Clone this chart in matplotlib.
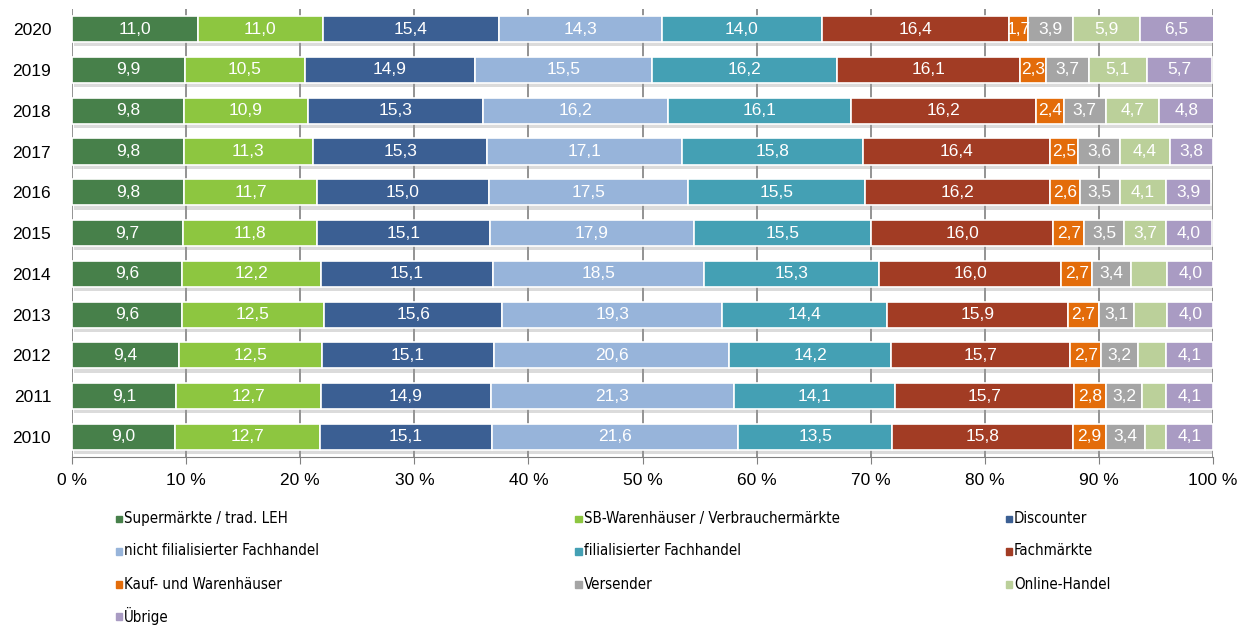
import numpy as np
import matplotlib.pyplot as plt
import matplotlib.patheffects as pe
from matplotlib.patches import Rectangle
from matplotlib import font_manager

plt.rcParams['font.family'] = ['Liberation Sans', 'DejaVu Sans']

# Umsatzanteile nach Vertriebsformen in %, Jahre 2010 bis 2020
years = ['2010', '2011', '2012', '2013', '2014', '2015', '2016', '2017', '2018', '2019', '2020']

supermaerkte = [9.0, 9.1, 9.4, 9.6, 9.6, 9.7, 9.8, 9.8, 9.8, 9.9, 11.0]
sb_warenhaeuser = [12.7, 12.7, 12.5, 12.5, 12.2, 11.8, 11.7, 11.3, 10.9, 10.5, 11.0]
discounter = [15.1, 14.9, 15.1, 15.6, 15.1, 15.1, 15.0, 15.3, 15.3, 14.9, 15.4]
nicht_filial = [21.6, 21.3, 20.6, 19.3, 18.5, 17.9, 17.5, 17.1, 16.2, 15.5, 14.3]
filial = [13.5, 14.1, 14.2, 14.4, 15.3, 15.5, 15.5, 15.8, 16.1, 16.2, 14.0]
fachmaerkte = [15.8, 15.7, 15.7, 15.9, 16.0, 16.0, 16.2, 16.4, 16.2, 16.1, 16.4]
kaufhaeuser = [2.9, 2.8, 2.7, 2.7, 2.7, 2.7, 2.6, 2.5, 2.4, 2.3, 1.7]
versender = [3.4, 3.2, 3.2, 3.1, 3.4, 3.5, 3.5, 3.6, 3.7, 3.7, 3.9]
online = [1.9, 2.1, 2.5, 2.9, 3.2, 3.7, 4.1, 4.4, 4.7, 5.1, 5.9]
online_labeled = [False, False, False, False, False, True, True, True, True, True, True]
uebrige = [4.1, 4.1, 4.1, 4.0, 4.0, 4.0, 3.9, 3.8, 4.8, 5.7, 6.5]

series_names = ['Supermärkte / trad. LEH', 'SB-Warenhäuser / Verbrauchermärkte', 'Discounter',
                'nicht filialisierter Fachhandel', 'filialisierter Fachhandel', 'Fachmärkte',
                'Kauf- und Warenhäuser', 'Versender', 'Online-Handel', 'Übrige']
series = [supermaerkte, sb_warenhaeuser, discounter, nicht_filial, filial,
          fachmaerkte, kaufhaeuser, versender, online, uebrige]
colors = ['#47804a', '#8dc640', '#3b5f93', '#97b4da', '#44a0b4', '#a23c24',
          '#e36c0a', '#a5a5a5', '#bbd09a', '#a99bc3']


def fmt(v):
    return f'{v:.1f}'.replace('.', ',')


fig = plt.figure(figsize=(12.55, 6.28), dpi=100)
ax = fig.add_axes([0.0574, 0.2717, 0.9092, 0.7143])

y = np.arange(len(years))
left = np.zeros(len(years))
shadow = [pe.SimplePatchShadow(offset=(1.5, -3), shadow_rgbFace='#999999', alpha=0.35), pe.Normal()]
for name, vals, col in zip(series_names, series, colors):
    vals = np.array(vals)
    bars = ax.barh(y, vals, left=left, height=0.64, color=col, edgecolor='white',
                   linewidth=1.2, label=name, zorder=3)
    for b in bars:
        b.set_path_effects(shadow)
    if name == 'Online-Handel':
        labels = [fmt(v) if show else '' for v, show in zip(vals, online_labeled)]
    else:
        labels = [fmt(v) for v in vals]
    ax.bar_label(bars, labels=labels, label_type='center', color='white',
                 fontsize=12.5, zorder=4)
    left += vals

ax.set_xlim(0, 100)
ax.set_ylim(-0.5, len(years) - 0.5)
ax.set_yticks(y)
ax.set_yticklabels(years, fontsize=12.5)
ax.set_xticks(np.arange(0, 101, 10))
ax.set_xticklabels([f'{t} %' for t in range(0, 101, 10)], fontsize=12.5)
ax.tick_params(axis='y', length=0, pad=15)
ax.tick_params(axis='x', length=5, color='#808080', pad=6)
ax.grid(axis='x', color='#808080', linewidth=1.2, zorder=0)
for s in ['top', 'right', 'left']:
    ax.spines[s].set_visible(False)
ax.spines['bottom'].set_color('#808080')

# Legende in drei Spalten, schmale Schrift
legend_font = font_manager.FontProperties(family='DejaVu Sans', stretch='condensed', size=10.8)
col_x = [0.0956, 0.462, 0.805]
row_y = [0.174, 0.123, 0.070, 0.019]
for i, (name, col) in enumerate(zip(series_names, colors)):
    cx = col_x[i % 3]
    cy = row_y[i // 3]
    fig.patches.append(Rectangle((cx - 0.0035, cy - 0.006), 0.005, 0.011,
                                 transform=fig.transFigure, color=col))
    fig.text(cx + 0.003, cy, name, fontproperties=legend_font, va='center', ha='left')

fig.savefig('out.png', dpi=100)
